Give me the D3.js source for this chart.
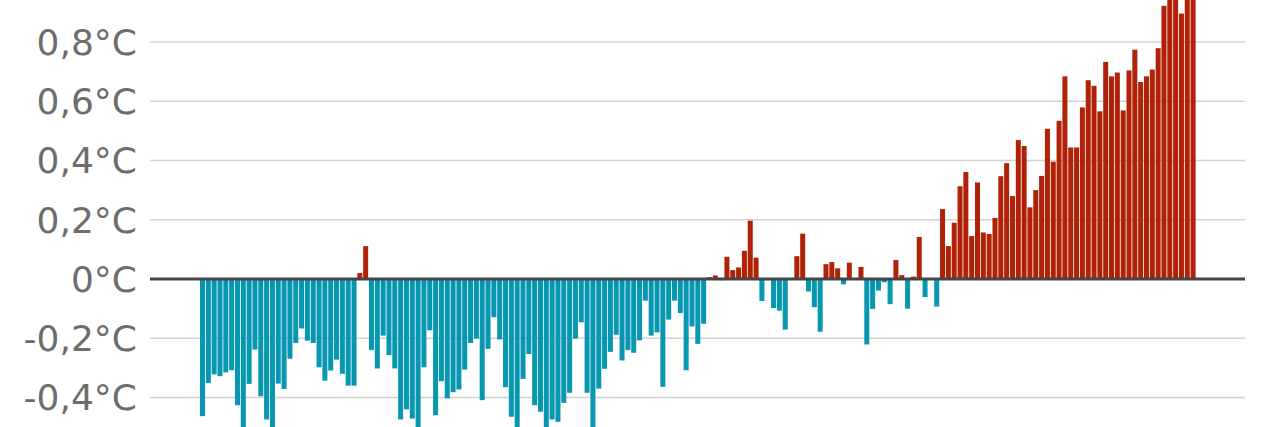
<!DOCTYPE html>
<html>
<head>
<meta charset="utf-8">
<script src="https://cdn.jsdelivr.net/npm/d3@7"></script>
<style>
  html, body { margin: 0; padding: 0; background: #ffffff; overflow: hidden; }
  svg { display: block; }
</style>
</head>
<body>
<svg id="chart" width="1280" height="427"></svg>
<script>
// ---- DATA ----
const firstYear = 1850;
const anomalies = [
  -0.463, -0.351, -0.322, -0.328, -0.315, -0.308, -0.426, -0.55, -0.354, -0.238,
  -0.396, -0.474, -0.60, -0.353, -0.371, -0.269, -0.216, -0.167, -0.208, -0.216,
  -0.298, -0.343, -0.309, -0.272, -0.320, -0.360, -0.360, 0.020, 0.111, -0.240,
  -0.302, -0.191, -0.257, -0.302, -0.474, -0.440, -0.471, -0.53, -0.298, -0.173,
  -0.460, -0.345, -0.403, -0.382, -0.373, -0.306, -0.216, -0.201, -0.409, -0.236,
  -0.129, -0.204, -0.365, -0.465, -0.53, -0.337, -0.253, -0.426, -0.448, -0.54,
  -0.474, -0.482, -0.418, -0.384, -0.201, -0.146, -0.384, -0.56, -0.370, -0.303,
  -0.246, -0.188, -0.275, -0.240, -0.249, -0.207, -0.073, -0.191, -0.180, -0.364,
  -0.137, -0.073, -0.115, -0.308, -0.160, -0.219, -0.151, 0.006, 0.012, -0.004,
  0.075, 0.030, 0.039, 0.095, 0.197, 0.072, -0.074, -0.004, -0.098, -0.107,
  -0.171, 0.003, 0.077, 0.153, -0.042, -0.095, -0.178, 0.050, 0.057, 0.036,
  -0.018, 0.055, 0.003, 0.041, -0.221, -0.101, -0.039, -0.011, -0.085, 0.064,
  0.013, -0.100, 0.008, 0.142, -0.061, 0.003, -0.093, 0.236, 0.111, 0.190,
  0.313, 0.361, 0.145, 0.326, 0.157, 0.152, 0.206, 0.347, 0.391, 0.280,
  0.469, 0.449, 0.242, 0.300, 0.348, 0.507, 0.396, 0.534, 0.684, 0.444,
  0.444, 0.579, 0.671, 0.652, 0.566, 0.733, 0.684, 0.697, 0.569, 0.704,
  0.774, 0.665, 0.684, 0.707, 0.779, 0.922, 1.00, 0.96, 0.896, 0.98,
  1.00
];
const years = anomalies.map((_, i) => firstYear + i);
const tickValues = [-0.4, -0.2, 0, 0.2, 0.4, 0.6, 0.8];
const tickLabels = ["-0,4°C", "-0,2°C", "0°C", "0,2°C", "0,4°C", "0,6°C", "0,8°C"];

// ---- LAYOUT ----
const svg = d3.select("#chart");
const step = 5.827;
const x = d3.scaleBand()
  .domain(years)
  .range([199.6, 199.6 + step * years.length])
  .paddingInner(0.14)
  .paddingOuter(0.07);

const y = d3.scaleLinear()
  .domain([0, 0.8])
  .range([279, 42]);

const gridX0 = 150, gridX1 = 1245;

// grid lines
svg.append("g")
  .selectAll("line")
  .data(tickValues.filter(d => d !== 0))
  .join("line")
  .attr("x1", gridX0).attr("x2", gridX1)
  .attr("y1", d => y(d)).attr("y2", d => y(d))
  .attr("stroke", "#d3d3d3")
  .attr("stroke-width", 1.6);

// bars
svg.append("g")
  .selectAll("rect")
  .data(years.map((yr, i) => ({ yr, v: anomalies[i] })))
  .join("rect")
  .attr("x", d => x(d.yr))
  .attr("width", x.bandwidth())
  .attr("y", d => d.v >= 0 ? y(d.v) : y(0))
  .attr("height", d => Math.abs(y(d.v) - y(0)))
  .attr("fill", d => d.v >= 0 ? "#b02107" : "#0797b1");

// zero line
svg.append("line")
  .attr("x1", gridX0).attr("x2", gridX1)
  .attr("y1", y(0)).attr("y2", y(0))
  .attr("stroke", "#454545")
  .attr("stroke-width", 3);

// labels
svg.append("g")
  .selectAll("text")
  .data(tickValues)
  .join("text")
  .attr("x", 137)
  .attr("y", d => y(d))
  .attr("dy", "0.36em")
  .attr("text-anchor", "end")
  .attr("font-family", "'DejaVu Sans', Verdana, sans-serif")
  .attr("font-size", 36)
  .attr("fill", "#6d6d6d")
  .text((d, i) => tickLabels[i]);
</script>
</body>
</html>
